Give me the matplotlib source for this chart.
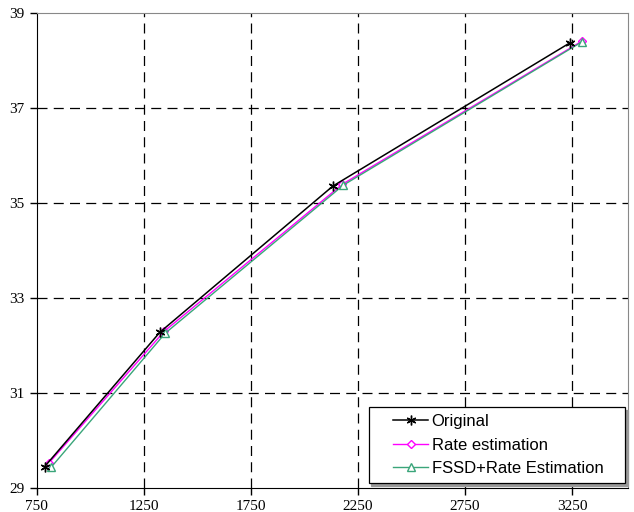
import matplotlib
matplotlib.use('Agg')
import matplotlib.pyplot as plt
from matplotlib.legend_handler import HandlerLine2D

# Data
orig_x = [787, 1325, 2133, 3241]
orig_y = [29.45, 32.28, 35.36, 38.38]
rate_x = [806, 1345, 2178, 3295]
rate_y = [29.52, 32.30, 35.40, 38.41]
fssd_x = [818, 1350, 2182, 3297]
fssd_y = [29.44, 32.26, 35.38, 38.40]

xticks = [750, 1250, 1750, 2250, 2750, 3250]
yticks = [29, 31, 33, 35, 37, 39]

fig = plt.figure(figsize=(6.34, 5.12), dpi=100)
ax = fig.add_axes([0.058, 0.047, 0.932, 0.927])

l1, = ax.plot(orig_x, orig_y, color='black', marker=(6, 2, 0), markersize=7,
              markeredgewidth=1.0, lw=1.1, label='Original', zorder=3)
l2, = ax.plot(rate_x, rate_y, color='#ff00ff', marker='D', markersize=4,
              markerfacecolor='white', lw=1.0, label='Rate estimation', zorder=2)
l3, = ax.plot(fssd_x, fssd_y, color='#3aa57a', marker='^', markersize=6,
              markerfacecolor='white', lw=1.0,
              label='FSSD+Rate Estimation   ', zorder=2)

ax.set_xlim(750, 3510)
ax.set_ylim(29, 39)
ax.set_xticks(xticks)
ax.set_yticks(yticks)

for xv in xticks[1:]:
    ax.axvline(xv, color='black', lw=0.9, ls=(0, (8, 5)), zorder=1)
for yv in yticks[1:-1]:
    ax.axhline(yv, color='black', lw=0.9, ls=(0, (8, 5)), zorder=1)

ax.spines['top'].set_color('#888888')
ax.spines['right'].set_color('#888888')
ax.spines['left'].set_color('black')
ax.spines['bottom'].set_color('black')
ax.tick_params(direction='out', length=5, width=1, labelsize=11, pad=4)
for lab in ax.get_xticklabels() + ax.get_yticklabels():
    lab.set_fontfamily('Liberation Serif')

hm = {h: HandlerLine2D(xpad=1.04) for h in (l1, l2, l3)}
leg = ax.legend(handles=[l1, l2, l3], handler_map=hm,
                loc='lower right', bbox_to_anchor=(0.998, 0.006),
                prop={'family': 'Liberation Sans', 'size': 12},
                frameon=True, fancybox=False,
                shadow={'color': '#999999', 'alpha': 1.0},
                handlelength=3.14, handletextpad=0.2, borderpad=0.45,
                labelspacing=0.5, borderaxespad=0.1)
leg.get_frame().set_edgecolor('black')
leg.get_frame().set_linewidth(0.9)

fig.savefig('out.png', dpi=100)
